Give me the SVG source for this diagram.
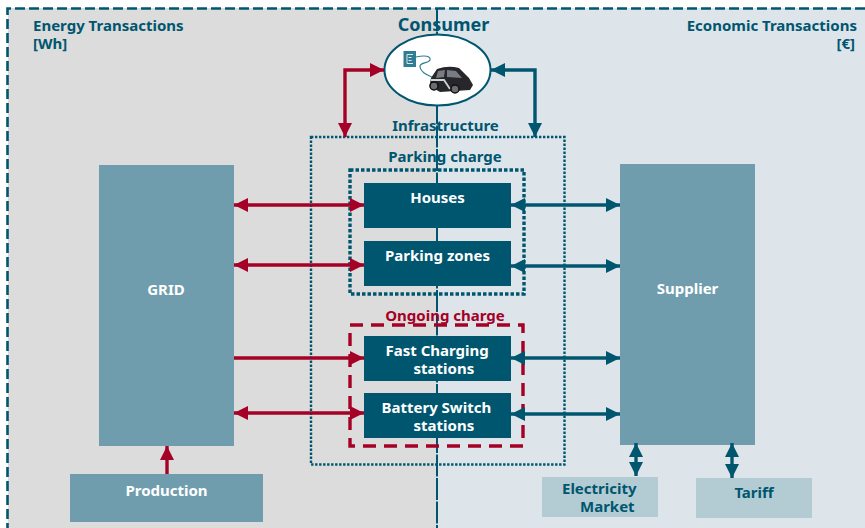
<svg xmlns="http://www.w3.org/2000/svg" width="865" height="528" viewBox="0 0 865 528">
<defs>
<marker id="r" markerUnits="userSpaceOnUse" markerWidth="14" markerHeight="14" refX="14" refY="7" orient="auto-start-reverse"><path d="M0 0L14 7L0 14Z" fill="#a50026"/></marker>
<marker id="b" markerUnits="userSpaceOnUse" markerWidth="14" markerHeight="14" refX="14" refY="7" orient="auto-start-reverse"><path d="M0 0L14 7L0 14Z" fill="#00566f"/></marker>
</defs>
<style>
text{font-family:"Noto Sans","DejaVu Sans",sans-serif;font-weight:700;font-size:15px;fill:#00566f}
.w{fill:#fff}
.m{text-anchor:middle}
.rt{fill:#a50026}
.big{fill:#6f9dae}
.dk{fill:#00566f}
.lt{fill:#b3ccd4}
.cr{fill:none;stroke:#a50026;stroke-width:3.4}
.cb{fill:none;stroke:#00566f;stroke-width:3.4}
.ar{marker-start:url(#r);marker-end:url(#r)}
.ab{marker-start:url(#b);marker-end:url(#b)}
</style>
<rect width="865" height="528" fill="#fff"/>
<g id="background">
<rect x="8" y="8" width="429" height="520" fill="#dcdcdc"/>
<rect x="437" y="8" width="428" height="520" fill="#dde5eb"/>
<path d="M865 8.500H7.500V528" fill="none" stroke="#00566f" stroke-width="2.600" stroke-dasharray="10 4"/>
<path d="M437 8V528" fill="none" stroke="#00566f" stroke-width="2" stroke-dasharray="22 1.500"/>
<text x="33" y="31">Energy Transactions</text>
<text x="33" y="49">[Wh]</text>
<text x="857" y="31" text-anchor="end">Economic Transactions</text>
<text x="855" y="49" text-anchor="end">[€]</text>
</g>
<g id="consumer">
<text x="443.500" y="31" class="m" style="font-size:18px">Consumer</text>
<ellipse cx="437.500" cy="70" rx="53" ry="35.500" fill="#fff" stroke="#00566f" stroke-width="2"/>
<rect x="403.500" y="51" width="12.500" height="16" fill="#2f7c93"/>
<path d="M413 54.500H407V63.500H413M408.500 57.500H411.500M408.500 60.500H411.500" fill="none" stroke="#dbe8ec" stroke-width="1"/>
<path d="M416 57C425 55 431 56 430 60C428 64 419 62 420 67C421 73 428 75 434 78" fill="none" stroke="#2f7c93" stroke-width="1.200"/>
<path d="M429.500 86L431 78L437 69Q448 65 459 68L469 78L473 85L470 90L440 92Z" fill="#26262b"/>
<path d="M438 71L445 70L444 77L436 78ZM447 70L456 71L462 78L447 77Z" fill="#777d82"/>
<path d="M431 80L444 80L450 89" fill="none" stroke="#d0d3d6" stroke-width="1.800"/>
<circle cx="434" cy="86" r="4" fill="#6a6d71" stroke="#111" stroke-width="1.500"/>
<circle cx="455" cy="89" r="4" fill="#6a6d71" stroke="#111" stroke-width="1.500"/>
</g>
<g id="infrastructure">
<rect x="311" y="137" width="253.500" height="327.500" fill="none" stroke="#00566f" stroke-width="2.400" stroke-dasharray="2.400 1.600"/>
<text x="445.500" y="131" class="m">Infrastructure</text>
</g>
<g id="parking-charge">
<rect x="350" y="170" width="174" height="124" fill="none" stroke="#00566f" stroke-width="3.400" stroke-dasharray="3.500 2"/>
<text x="445" y="162" class="m">Parking charge</text>
</g>
<g id="ongoing-charge">
<rect x="350" y="325" width="173" height="121" fill="none" stroke="#a50026" stroke-width="3.400" stroke-dasharray="13 8"/>
<text x="445" y="321" class="m rt">Ongoing charge</text>
</g>
<g id="grid"><rect x="99" y="165" width="135" height="281" class="big"/><text x="166" y="295" class="m w">GRID</text></g>
<g id="supplier"><rect x="620" y="164" width="135" height="281" class="big"/><text x="687.500" y="294" class="m w">Supplier</text></g>
<g id="production"><rect x="70" y="474" width="193" height="48" class="big"/><text x="166.500" y="496" class="m w">Production</text></g>
<g id="houses"><rect x="364" y="183" width="147" height="45" class="dk"/><text x="437.500" y="203" class="m w">Houses</text></g>
<g id="parking-zones"><rect x="364" y="241" width="147" height="45" class="dk"/><text x="437.500" y="261" class="m w">Parking zones</text></g>
<g id="fast-charging"><rect x="364" y="336" width="147" height="45" class="dk"/><text class="w" y="356"><tspan x="385.500">Fast Charging</tspan><tspan x="413.500" y="374">stations</tspan></text></g>
<g id="battery-switch"><rect x="364" y="393" width="147" height="45" class="dk"/><text class="w" y="413"><tspan x="381.500">Battery Switch</tspan><tspan x="413.500" y="431">stations</tspan></text></g>
<g id="electricity-market"><rect x="542" y="477" width="116" height="40" class="lt"/><text y="494"><tspan x="562">Electricity</tspan><tspan x="580" y="512">Market</tspan></text></g>
<g id="tariff"><rect x="696" y="478" width="116" height="40" class="lt"/><text x="754" y="498" class="m">Tariff</text></g>
<g id="connectors">
<path class="cr" d="M345 137V70H384" marker-start="url(#r)" marker-end="url(#r)"/>
<path class="cb" d="M535 137V70H491" marker-start="url(#b)" marker-end="url(#b)"/>
<path class="cr ar" d="M234 205H364"/>
<path class="cr ar" d="M234 265H364"/>
<path class="cr" d="M234 358H364" marker-end="url(#r)"/>
<path class="cr ar" d="M234 413H364"/>
<path class="cb ab" d="M511 205H620"/>
<path class="cb ab" d="M511 266H620"/>
<path class="cb ab" d="M511 358H620"/>
<path class="cb ab" d="M511 414H620"/>
<path class="cr" d="M167 474V446" marker-end="url(#r)"/>
<path class="cb ab" d="M636 443V476"/>
<path class="cb ab" d="M732 443V478"/>
</g>
</svg>
